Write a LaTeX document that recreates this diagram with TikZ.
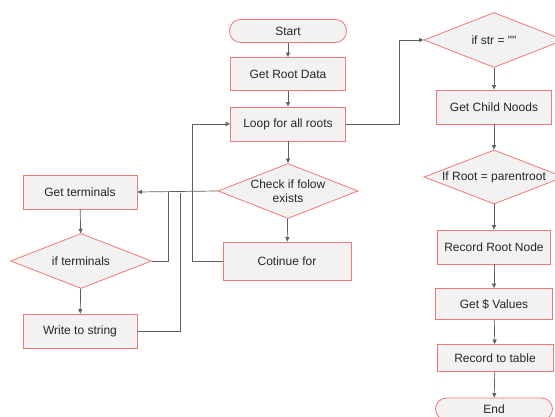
\documentclass[tikz,border=0pt]{standalone}
\usepackage{fontspec}
\setmainfont{Liberation Sans}
\newfontfamily\qfont{Liberation Sans}[Ligatures=TeXOff]
\usetikzlibrary{shapes.geometric,arrows.meta}
\definecolor{bord}{RGB}{240,120,120}
\definecolor{boxfill}{RGB}{242,242,242}
\definecolor{wire}{RGB}{95,95,95}
\begin{document}
\begin{tikzpicture}[x=1pt,y=-1pt,
  every node/.style={font=\fontsize{12}{13.5}\selectfont, text=black!85},
  proc/.style={draw=bord, fill=boxfill, line width=0.8pt, rectangle, inner sep=0pt},
  term/.style={draw=bord, fill=boxfill, line width=0.8pt, rectangle, rounded corners=11pt, inner sep=0pt},
  dec/.style={draw=bord, fill=boxfill, line width=0.8pt, diamond, inner sep=0pt},
  conn/.style={draw=wire, line width=0.7pt},
  arr/.style={conn, -{Triangle[length=4.5pt,width=4pt]}}]
\useasboundingbox (0,0) rectangle (555,417);
% main column
\node[term, minimum width=117pt, minimum height=23pt] (start) at (288,31) {Start};
\node[proc, minimum width=115pt, minimum height=33pt] (getroot) at (288,74) {Get Root Data};
\node[proc, minimum width=115pt, minimum height=34pt] (loop) at (288,124) {Loop for all roots};
\node[dec, minimum width=140pt, minimum height=55pt, label={[align=center, font=\fontsize{12}{13.5}\selectfont]center:Check if folow\\exists}] (check) at (288,191) {};
\node[proc, minimum width=128pt, minimum height=38pt] (cont) at (287,261) {Cotinue for};
% left column
\node[proc, minimum width=114pt, minimum height=34pt] (getterm) at (80,192) {Get terminals};
\node[dec, minimum width=141pt, minimum height=55pt, label={center:if terminals}] (ifterm) at (81,261) {};
\node[proc, minimum width=114pt, minimum height=34pt] (write) at (80,331) {Write to string};
% right column
\node[dec, minimum width=140pt, minimum height=55pt, label={center:{\qfont if str = ""}}] (ifstr) at (494,40) {};
\node[proc, minimum width=115pt, minimum height=34pt] (child) at (494,107) {Get Child Noods};
\node[dec, minimum width=140pt, minimum height=54pt, label={center:If Root = parentroot}] (ifroot) at (494,177) {};
\node[proc, minimum width=113pt, minimum height=34pt] (recnode) at (494,247) {Record Root Node};
\node[proc, minimum width=117pt, minimum height=31pt] (getval) at (494,304) {Get \$ Values};
\node[proc, minimum width=116pt, minimum height=27pt] (rectab) at (495,358) {Record to table};
\node[term, minimum width=117pt, minimum height=22pt] (end) at (494,409) {End};
% coordinates
\coordinate (j1) at (168,192);
\coordinate (j2) at (180,193);
\coordinate (lp) at (192,261);
\coordinate (rp) at (399,124);
% connectors
\draw[arr] (start) -- (getroot);
\draw[arr] (getroot) -- (loop);
\draw[arr] (loop) -- (check);
\draw[arr] (check) -- (cont);
\draw[arr] (check.west) -- (getterm.east);
\draw[arr] (getterm) -- (ifterm);
\draw[arr] (ifterm) -- (write);
\draw[conn] (ifterm.east) -| (j1);
\draw[conn] (write.east) -| (j2);
\draw[arr] (cont.west) -- (lp) |- (loop.west);
\draw[arr] (loop.east) -- (rp) |- (ifstr.west);
\draw[arr] (ifstr) -- (child);
\draw[arr] (child) -- (ifroot);
\draw[arr] (ifroot) -- (recnode);
\draw[arr] (recnode) -- (getval);
\draw[arr] (getval) -- (rectab);
\draw[arr] (rectab) -- (end);
\end{tikzpicture}
\end{document}
